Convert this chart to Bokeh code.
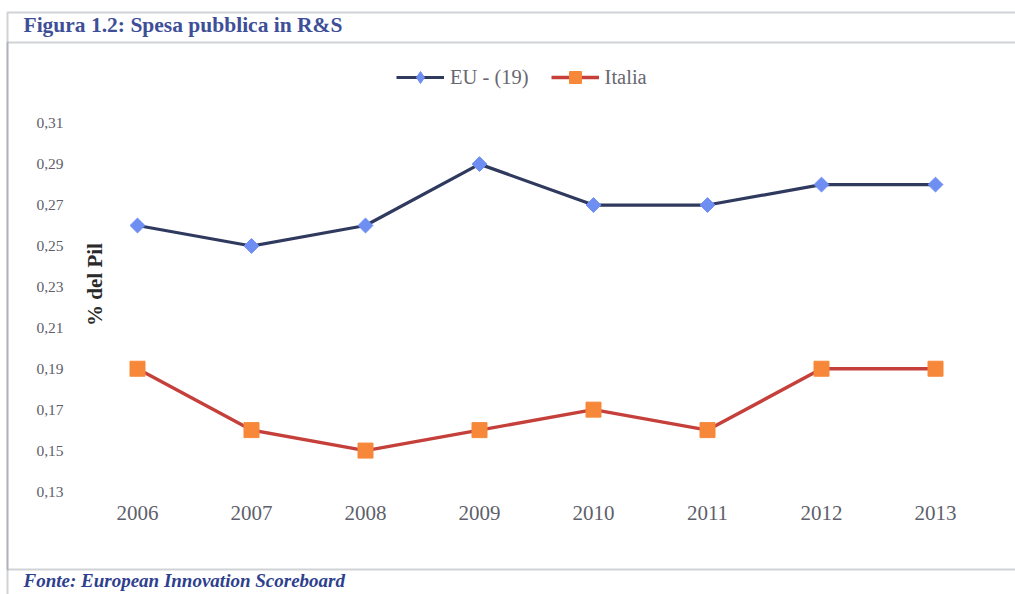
import numpy as np
from bokeh.plotting import figure
from bokeh.models import (Range1d, FixedTicker, CustomJSTickFormatter, Label,
                          BoxAnnotation, Legend, LegendItem)
from bokeh.embed import file_html
from bokeh.resources import INLINE

# ---- data ----
years = [2006, 2007, 2008, 2009, 2010, 2011, 2012, 2013]
eu19 = [0.26, 0.25, 0.26, 0.29, 0.27, 0.27, 0.28, 0.28]
italia = [0.19, 0.16, 0.15, 0.16, 0.17, 0.16, 0.19, 0.19]
y_ticks = [0.13, 0.15, 0.17, 0.19, 0.21, 0.23, 0.25, 0.27, 0.29, 0.31]
series_names = ["EU - (19)", "Italia"]
title_text = "Figura 1.2: Spesa pubblica in R&S"
source_text = "Fonte: European Innovation Scoreboard"
y_label = "% del Pil"

# ---- layout (canvas pixels) ----
W, H = 1015, 594
# plotting area (where the data range lives), in canvas pixels
PL, PR, PT, PB = 80.0, 992.0, 122.7, 491.0
VX0, VX1 = 2005.5, 2013.5
VY0, VY1 = 0.13, 0.31


def dx(sx):
    return VX0 + (sx - PL) / (PR - PL) * (VX1 - VX0)


def dy(sy):
    return VY0 + (PB - sy) / (PB - PT) * (VY1 - VY0)


# the frame spans the whole canvas so that every annotation is visible
p = figure(width=W, height=H, output_backend="svg", toolbar_location=None,
           x_range=Range1d(dx(0), dx(W)), y_range=Range1d(dy(H), dy(0)),
           min_border=0, min_border_left=0, min_border_right=0,
           min_border_top=0, min_border_bottom=0)
p.outline_line_color = None
p.xgrid.visible = False
p.ygrid.visible = False
p.background_fill_color = "white"
p.border_fill_color = "white"

SERIF = "Liberation Serif"
TICK_COLOR = "#5e5f6b"

# axes, drawn inside the canvas at the plotting-area edges
p.yaxis.fixed_location = dx(PL)
p.yaxis.ticker = FixedTicker(ticks=y_ticks)
p.yaxis.formatter = CustomJSTickFormatter(code="return tick.toFixed(2).replace('.', ',');")
p.yaxis.axis_line_color = None
p.yaxis.major_tick_line_color = None
p.yaxis.minor_tick_line_color = None
p.yaxis.major_tick_out = 0
p.yaxis.major_tick_in = 0
p.yaxis.major_label_standoff = 17
p.yaxis.major_label_text_font = SERIF
p.yaxis.major_label_text_font_size = "15.5px"
p.yaxis.major_label_text_color = TICK_COLOR

p.xaxis.fixed_location = dy(PB)
p.xaxis.ticker = FixedTicker(ticks=years)
p.xaxis.axis_line_color = None
p.xaxis.major_tick_line_color = None
p.xaxis.minor_tick_line_color = None
p.xaxis.major_tick_out = 0
p.xaxis.major_tick_in = 0
p.xaxis.major_label_standoff = 14
p.xaxis.major_label_text_font = SERIF
p.xaxis.major_label_text_font_size = "21px"
p.xaxis.major_label_text_color = TICK_COLOR

# series
EU_LINE, EU_MARK = "#2f3a5e", "#6e8ef2"
IT_LINE, IT_MARK = "#c5403a", "#f7883a"
l1 = p.line(years, eu19, line_color=EU_LINE, line_width=3.2)
s1 = p.scatter(years, eu19, marker="square", angle=np.pi / 4, size=10.5,
               fill_color=EU_MARK, line_color=EU_MARK)
l2 = p.line(years, italia, line_color=IT_LINE, line_width=3.4)
s2 = p.scatter(years, italia, marker="square", size=15,
               fill_color=IT_MARK, line_color=IT_MARK)
# legend-only diamond swatch (no data point is drawn: empty coordinates)
s1_key = p.scatter(x=[np.nan], y=[np.nan], marker="diamond", size=12,
                   fill_color=EU_MARK, line_color=EU_MARK)

legend = Legend(items=[LegendItem(label=series_names[0], renderers=[l1, s1_key]),
                       LegendItem(label=series_names[1], renderers=[l2, s2])],
                orientation="horizontal", location=(396, H - 92),
                padding=0, margin=0, spacing=22, glyph_width=48, glyph_height=30,
                label_standoff=6, label_text_font=SERIF, label_text_font_size="20.5px",
                label_text_color="#676770", border_line_color=None,
                background_fill_alpha=0)
p.add_layout(legend, "center")

# frame boxes
BOX_COLOR = "#666a78"
p.add_layout(BoxAnnotation(left=dx(7), right=dx(1030), top=dy(12), bottom=dy(620),
                           fill_color=None, fill_alpha=0, line_color=BOX_COLOR, line_width=2))
p.add_layout(BoxAnnotation(left=dx(7), right=dx(1030), top=dy(42), bottom=dy(569),
                           fill_color=None, fill_alpha=0, line_color=BOX_COLOR, line_width=2))

# texts (y given slightly above the wanted baseline: Label draws a bit low)
p.add_layout(Label(x=dx(23), y=dy(24), text=title_text, text_font=SERIF,
                   text_font_style="bold", text_font_size="21.5px", text_color="#3e4f98",
                   text_baseline="alphabetic", text_align="left"))
p.add_layout(Label(x=dx(23), y=dy(580), text=source_text, text_font=SERIF,
                   text_font_style="bold italic", text_font_size="19px", text_color="#2e3f8e",
                   text_baseline="alphabetic", text_align="left"))
p.add_layout(Label(x=dx(94), y=dy(284), text=y_label, text_font=SERIF,
                   text_font_style="bold", text_font_size="21px", text_color="#2a2a2a",
                   angle=np.pi / 2, text_align="center", text_baseline="middle"))

open("out.html", "w").write(file_html(p, INLINE))
